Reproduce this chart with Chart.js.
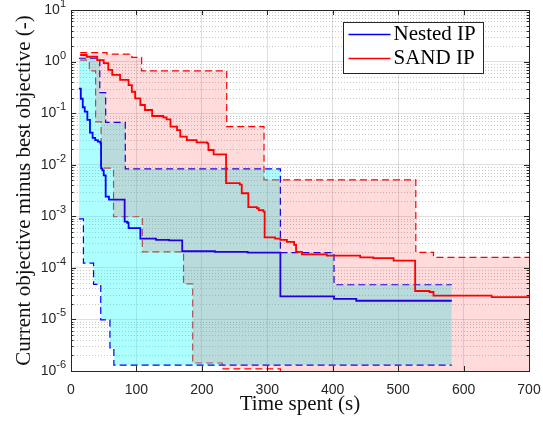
<!DOCTYPE html>
<html>
<head>
<meta charset="utf-8">
<script src="https://cdn.jsdelivr.net/npm/chart.js@4.4.0/dist/chart.umd.min.js"></script>
<style>
    html, body { margin: 0; padding: 0; background: #ffffff; }
    #wrap { width: 543px; height: 421px; }
</style>
</head>
<body>
<div id="wrap"><canvas id="convChart" width="543" height="421"></canvas></div>
<script>
/**
 * Convergence chart: current objective minus best objective vs time spent
 * Median run (solid) and min/max envelope (dashed, shaded) for two solvers
 */

const seriesNames = ['Nested IP', 'SAND IP'];
const xTicks = [0, 100, 200, 300, 400, 500, 600, 700];
const yDecades = [1e-6, 1e-5, 1e-4, 1e-3, 1e-2, 1e-1, 1, 10];
const yExponents = [-6, -5, -4, -3, -2, -1, 0, 1];

// Nested IP - median run (value holds until next x)
const nestedMedX = [12, 15, 18, 21, 25, 29, 33, 37, 41, 45, 46, 48, 50, 53, 58, 82, 86, 88, 106, 130, 150, 170, 220, 270, 320, 402, 436, 582];
const nestedMedY = [0.30, 0.19, 0.13, 0.107, 0.074, 0.042, 0.033, 0.030, 0.028, 0.026, 0.0085, 0.0078, 0.0062, 0.0024, 0.0021, 0.00079, 0.00075, 0.00059, 0.00037, 0.00035, 0.00034, 0.00021, 0.000205, 0.000198, 2.8e-5, 2.5e-5, 2.3e-5, 2.3e-5];

// Nested IP - envelope
const nestedHiX = [12, 44, 53, 83, 320, 402, 582];
const nestedHiY = [1.16, 0.25, 0.066, 0.0083, 0.000197, 4.7e-5, 4.7e-5];
const nestedLoX = [12, 19, 34.5, 45.5, 59.5, 65.5, 582];
const nestedLoY = [0.00089, 1.23e-4, 4.8e-5, 9.8e-6, 2.8e-6, 1.3e-6, 1.3e-6];

// SAND IP - median run
const sandMedX = [14, 24, 40, 50, 57, 63, 75, 88, 93, 98, 106, 113, 124, 141, 146, 152, 162, 167, 177, 192, 208, 210, 218, 237, 258, 261, 271, 284, 287, 294, 296, 312, 320, 330, 341, 344, 353, 391, 442, 462, 493, 526, 548, 554, 643, 700];
const sandMedY = [1.34, 1.24, 1.07, 0.93, 0.69, 0.55, 0.44, 0.35, 0.26, 0.194, 0.144, 0.115, 0.088, 0.083, 0.076, 0.055, 0.047, 0.035, 0.030, 0.027, 0.026, 0.0193, 0.0159, 0.0044, 0.0041, 0.0028, 0.0015, 0.00143, 0.00132, 0.00123, 0.00039, 0.00037, 0.00035, 0.00032, 0.00028, 0.000205, 0.000183, 0.000173, 0.000159, 0.000154, 0.000138, 3.56e-5, 3.4e-5, 2.9e-5, 2.7e-5, 2.7e-5];

// SAND IP - envelope (lower bound falls below the axis after ~320 s)
const sandHiX = [14, 55, 93, 108, 238, 295, 527, 554, 700];
const sandHiY = [1.49, 1.40, 1.21, 0.66, 0.055, 0.0051, 0.0002, 0.00016, 0.00016];
const sandLoX = [14, 28, 37.6, 46, 65, 109, 172, 186, 231, 320, 700];
const sandLoY = [1.07, 0.66, 0.068, 0.0086, 0.00098, 0.000205, 4.9e-5, 1.43e-6, 1.1e-6, 1e-9, 1e-9];

const BLUE = '#0000ff';
const RED = '#ff0000';
const AXIS = '#262626';

// Shift each value so it holds from its own x until the next x
function toPoints(xs, ys) {
    const pts = [{ x: xs[0], y: ys[0] }];
    for (let i = 1; i < xs.length; i++) {
        pts.push({ x: xs[i], y: ys[i - 1] });
        pts.push({ x: xs[i], y: ys[i] });
    }
    return pts;
}

function stepDataset(xs, ys, opts) {
    return Object.assign({
        data: toPoints(xs, ys),
        pointRadius: 0,
        borderWidth: 1.2,
        fill: false,
        tension: 0
    }, opts);
}

// Dotted minor grid on the log axis
const minorGrid = {
    id: 'minorGrid',
    beforeDatasetsDraw(chart) {
        const { ctx, chartArea: a, scales: { y } } = chart;
        ctx.save();
        ctx.strokeStyle = 'rgba(0,0,0,0.22)';
        ctx.lineWidth = 1;
        ctx.setLineDash([1, 2]);
        yDecades.slice(0, -1).forEach(d => {
            for (let m = 2; m <= 9; m++) {
                const py = Math.round(y.getPixelForValue(m * d)) + 0.5;
                ctx.beginPath();
                ctx.moveTo(a.left, py);
                ctx.lineTo(a.right, py);
                ctx.stroke();
            }
        });
        ctx.restore();
    }
};

// MATLAB-like box with inner ticks and 10^n labels
const axesFrame = {
    id: 'axesFrame',
    afterDatasetsDraw(chart) {
        const { ctx, chartArea: a, scales: { x, y } } = chart;
        ctx.save();
        ctx.strokeStyle = AXIS;
        ctx.lineWidth = 1;
        ctx.setLineDash([]);
        ctx.strokeRect(Math.round(a.left) + 0.5, Math.round(a.top) + 0.5,
            Math.round(a.right - a.left), Math.round(a.bottom - a.top));

        ctx.beginPath();
        xTicks.forEach(v => {
            const px = Math.round(x.getPixelForValue(v)) + 0.5;
            ctx.moveTo(px, a.bottom); ctx.lineTo(px, a.bottom - 5);
            ctx.moveTo(px, a.top); ctx.lineTo(px, a.top + 5);
        });
        yDecades.forEach((d, i) => {
            const py = Math.round(y.getPixelForValue(d)) + 0.5;
            ctx.moveTo(a.left, py); ctx.lineTo(a.left + 5, py);
            ctx.moveTo(a.right, py); ctx.lineTo(a.right - 5, py);
            if (i < yDecades.length - 1) {
                for (let m = 2; m <= 9; m++) {
                    const pm = Math.round(y.getPixelForValue(m * d)) + 0.5;
                    ctx.moveTo(a.left, pm); ctx.lineTo(a.left + 2.5, pm);
                    ctx.moveTo(a.right, pm); ctx.lineTo(a.right - 2.5, pm);
                }
            }
        });
        ctx.stroke();

        // y tick labels with superscript exponent
        ctx.fillStyle = AXIS;
        ctx.textBaseline = 'middle';
        yDecades.forEach((d, i) => {
            const py = y.getPixelForValue(d);
            const exp = String(yExponents[i]);
            ctx.font = '11px "Liberation Sans", Arial, sans-serif';
            const ew = ctx.measureText(exp).width;
            const right = a.left - 5;
            ctx.textAlign = 'right';
            ctx.fillText(exp, right, py - 6);
            ctx.font = '14px "Liberation Sans", Arial, sans-serif';
            ctx.fillText('10', right - ew, py);
        });
        ctx.restore();
    }
};

// Boxed legend in the upper right corner
const legendBox = {
    id: 'legendBox',
    afterDraw(chart) {
        const { ctx, chartArea: a } = chart;
        const bx = Math.round(a.right - 186) + 0.5;
        const by = Math.round(a.top + 12) + 0.5;
        const colors = [BLUE, RED];
        ctx.save();
        ctx.fillStyle = '#ffffff';
        ctx.fillRect(bx, by, 140, 51);
        ctx.strokeStyle = AXIS;
        ctx.lineWidth = 1;
        ctx.strokeRect(bx, by, 140, 51);
        ctx.font = '21px "Liberation Serif", "Times New Roman", serif';
        ctx.textBaseline = 'middle';
        ctx.textAlign = 'left';
        seriesNames.forEach((name, i) => {
            const ly = by + 12 + i * 24;
            ctx.strokeStyle = colors[i];
            ctx.lineWidth = 1.5;
            ctx.beginPath();
            ctx.moveTo(bx + 5, ly);
            ctx.lineTo(bx + 47, ly);
            ctx.stroke();
            ctx.fillStyle = '#000000';
            ctx.fillText(name, bx + 50, ly);
        });
        ctx.restore();
    }
};

const dash = [7, 4];

const datasets = [
    stepDataset(sandHiX, sandHiY, { label: 'SAND max', borderColor: RED, borderDash: dash, order: 8 }),
    stepDataset(sandLoX, sandLoY, { label: 'SAND min', borderColor: RED, borderDash: dash, order: 7 }),
    stepDataset(nestedHiX, nestedHiY, {
        label: 'Nested max', borderColor: BLUE, borderDash: dash, order: 6,
        fill: '+1', backgroundColor: 'rgba(0,255,255,0.32)'
    }),
    stepDataset(nestedLoX, nestedLoY, { label: 'Nested min', borderColor: BLUE, borderDash: dash, order: 5 }),
    stepDataset(nestedMedX, nestedMedY, { label: seriesNames[0], borderColor: BLUE, borderWidth: 1.8, order: 4 }),
    stepDataset(sandHiX, sandHiY, {
        label: 'SAND band', borderColor: 'rgba(0,0,0,0)', order: 3,
        fill: '+1', backgroundColor: 'rgba(255,0,0,0.14)'
    }),
    stepDataset(sandLoX, sandLoY, { label: 'SAND band low', borderColor: 'rgba(0,0,0,0)', order: 2 }),
    stepDataset(sandMedX, sandMedY, { label: seriesNames[1], borderColor: RED, borderWidth: 1.8, order: 1 })
];

const ctx = document.getElementById('convChart');

new Chart(ctx, {
    type: 'line',
    data: { datasets: datasets },
    options: {
        responsive: false,
        animation: false,
        events: [],
        devicePixelRatio: 1,
        layout: { padding: { top: 10, right: 14, left: 0, bottom: 0 } },
        plugins: {
            legend: { display: false },
            tooltip: { enabled: false }
        },
        scales: {
            x: {
                type: 'linear',
                min: 0,
                max: 700,
                afterBuildTicks: s => { s.ticks = xTicks.map(v => ({ value: v })); },
                afterFit: s => {
                    s.height = 50;
                    s.paddingLeft = 0;
                    s.paddingRight = 0;
                },
                grid: { color: 'rgba(0,0,0,0.12)', drawTicks: false },
                border: { display: false },
                ticks: {
                    color: AXIS,
                    font: { family: '"Liberation Sans", Arial, sans-serif', size: 14 },
                    padding: 11,
                    maxRotation: 0,
                    autoSkip: false
                },
                title: {
                    display: true,
                    text: 'Time spent (s)',
                    color: '#111111',
                    font: { family: '"Liberation Serif", "Times New Roman", serif', size: 21 },
                    padding: { top: 0, bottom: 4 }
                }
            },
            y: {
                type: 'logarithmic',
                min: 1e-6,
                max: 10,
                afterBuildTicks: s => { s.ticks = yDecades.map(v => ({ value: v })); },
                afterFit: s => { s.width = 71; },
                grid: { color: 'rgba(0,0,0,0.12)', drawTicks: false },
                border: { display: false },
                ticks: { display: false },
                title: {
                    display: true,
                    text: 'Current objective minus best objective (-)',
                    color: '#111111',
                    font: { family: '"Liberation Serif", "Times New Roman", serif', size: 21 },
                    padding: { top: 12, bottom: 0 }
                }
            }
        }
    },
    plugins: [minorGrid, axesFrame, legendBox]
});
</script>
</body>
</html>
